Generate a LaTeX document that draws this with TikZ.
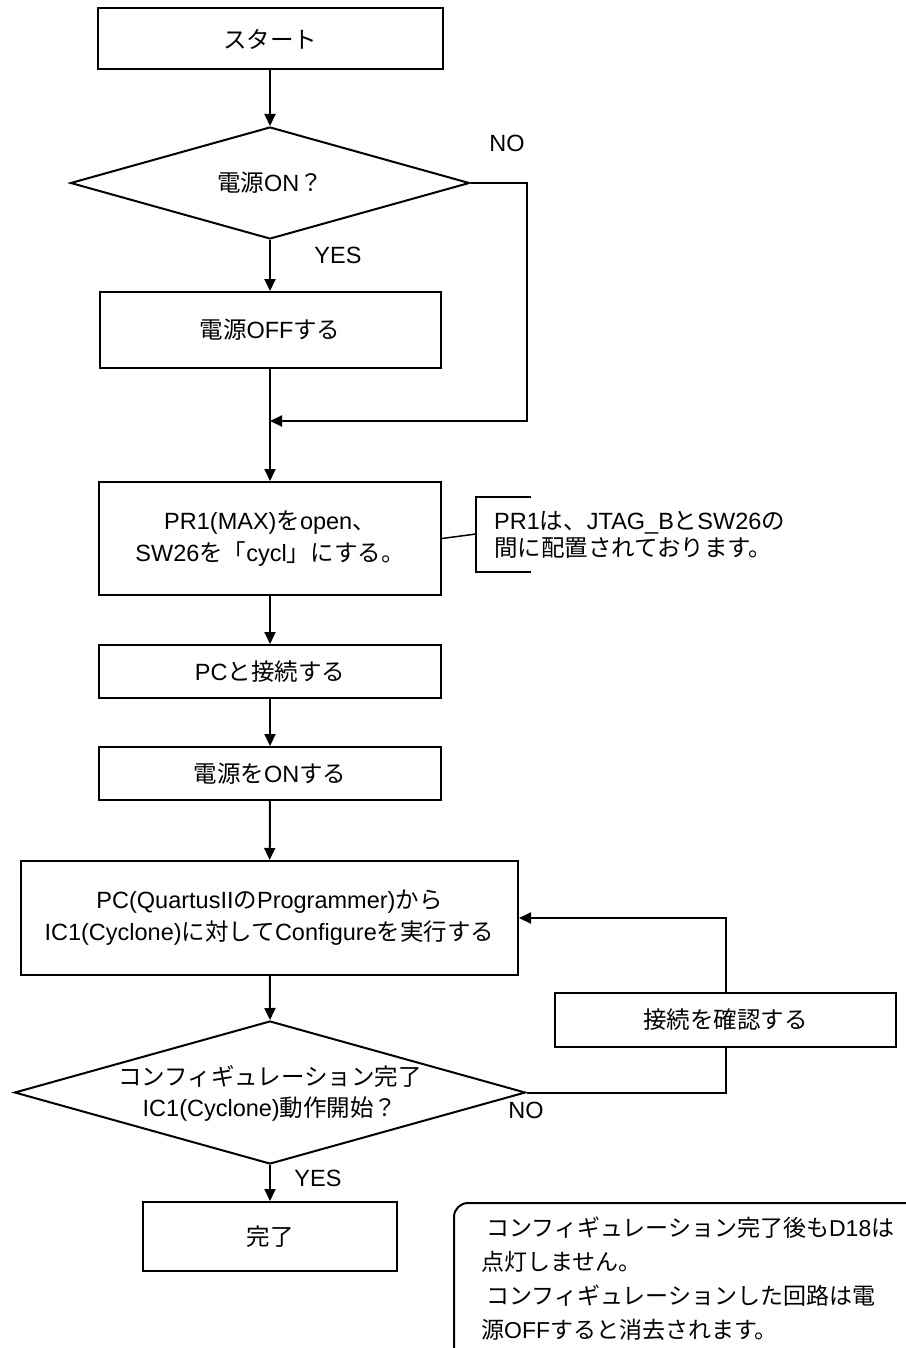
\documentclass[tikz,border=0pt]{standalone}
\usepackage{fontspec}
\setmainfont{Liberation Sans}
\newfontfamily\jpfont{Noto Sans CJK JP}
\newcommand\J[1]{{\jpfont #1}}
\usetikzlibrary{shapes.geometric,arrows.meta}
\begin{document}
\begin{tikzpicture}[x=1pt,y=-1pt,
  every node/.style={font=\fontsize{23.5}{32}\selectfont},
  box/.style={draw, line width=2pt, inner sep=0pt, align=center},
  dia/.style={draw, diamond, line width=2pt, inner sep=0pt},
  conn/.style={line width=2pt},
  arr/.style={conn, -{Triangle[length=12pt,width=11pt]}},
  lbl/.style={inner sep=0pt, align=center}
]
\useasboundingbox (0,0) rectangle (905,1348);

% main column
\node[box, minimum width=345pt, minimum height=61pt] (start) at (270,39) {\J{スタート}};
\node[dia, minimum width=399pt, minimum height=112pt] (d1) at (270,183) {};
\node[lbl] (d1t) at (d1) {\J{電源}ON\J{？}};
\node[box, minimum width=341pt, minimum height=76pt] (off) at (270,330) {\J{電源}OFF\J{する}};
\coordinate (j1) at (270,421);
\coordinate (noR) at (527,421);
\node[box, minimum width=342pt, minimum height=113pt] (pr1) at (270,538.5)
  {PR1(MAX)\J{を}open\J{、}\\SW26\J{を「}cycl\J{」にする。}};
\node[box, minimum width=342pt, minimum height=53pt] (pc) at (270,671.5) {PC\J{と接続する}};
\node[box, minimum width=342pt, minimum height=53pt] (on) at (270,773.5) {\J{電源を}ON\J{する}};
\node[box, minimum width=497pt, minimum height=114pt] (cfg) at (269.5,918)
  {PC(QuartusII\J{の}Programmer)\J{から}\\IC1(Cyclone)\J{に対して}Configure\J{を実行する}};
\node[dia, minimum width=511pt, minimum height=143pt] (d2) at (270,1092.5) {};
\node[lbl, font=\fontsize{23.5}{31}\selectfont] (d2t) at (270,1093)
  {\J{コンフィギュレーション完了}\\IC1(Cyclone)\J{動作開始？}};
\node[box, minimum width=341pt, minimum height=54pt] (chk) at (725.5,1020) {\J{接続を確認する}};
\node[box, minimum width=254pt, minimum height=69pt] (done) at (270,1236.5) {\J{完了}};

% labels
\node[lbl] (no1) at (507,143) {NO};
\node[lbl] (yes1) at (338,255) {YES};
\node[lbl] (no2) at (526,1110) {NO};
\node[lbl] (yes2) at (318,1178) {YES};

% connectors
\draw[arr] (start) -- (d1.north);
\draw[arr] (d1.south) -- (off);
\draw[conn] (off) -- (j1);
\draw[arr] (d1.east) -| (noR) -- (j1);
\draw[arr] (j1) -- (pr1);
\draw[arr] (pr1) -- (pc);
\draw[arr] (pc) -- (on);
\draw[arr] (on) -- (cfg);
\draw[arr] (cfg) -- (d2.north);
\draw[arr] (d2.south) -- (done);
\draw[conn] (d2.east) -| (chk.south);
\draw[arr] (chk.north) |- (cfg.east);

% callout
\coordinate (bT) at (531,497);
\coordinate (bTL) at (476,497);
\coordinate (bBL) at (476,572);
\coordinate (bB) at (531,572);
\coordinate (bM) at (476,534);
\draw[conn] (bT) -- (bTL) -- (bBL) -- (bB);
\draw[conn, line width=1.5pt] (pr1.east) -- (bM);
\node[lbl, font=\fontsize{23.5}{27}\selectfont, align=left, anchor=west] (note1) at (494,535)
  {PR1\J{は、}JTAG\_B\J{と}SW26\J{の}\\\J{間に配置されております。}};

% bottom note
\node[draw, line width=2pt, rounded corners=14pt, minimum width=465pt, minimum height=160pt,
  inner sep=0pt, anchor=north west] (note2) at (453,1202) {};
\node[lbl, font=\fontsize{23}{34}\selectfont, align=left, anchor=west] (note2t) at (481,1279)
  {\hspace*{5pt}\J{コンフィギュレーション完了後も}D18\J{は}\\\J{点灯しません。}\\\hspace*{5pt}\J{コンフィギュレーションした回路は電}\\\J{源}OFF\J{すると消去されます。}};
\end{tikzpicture}
\end{document}
